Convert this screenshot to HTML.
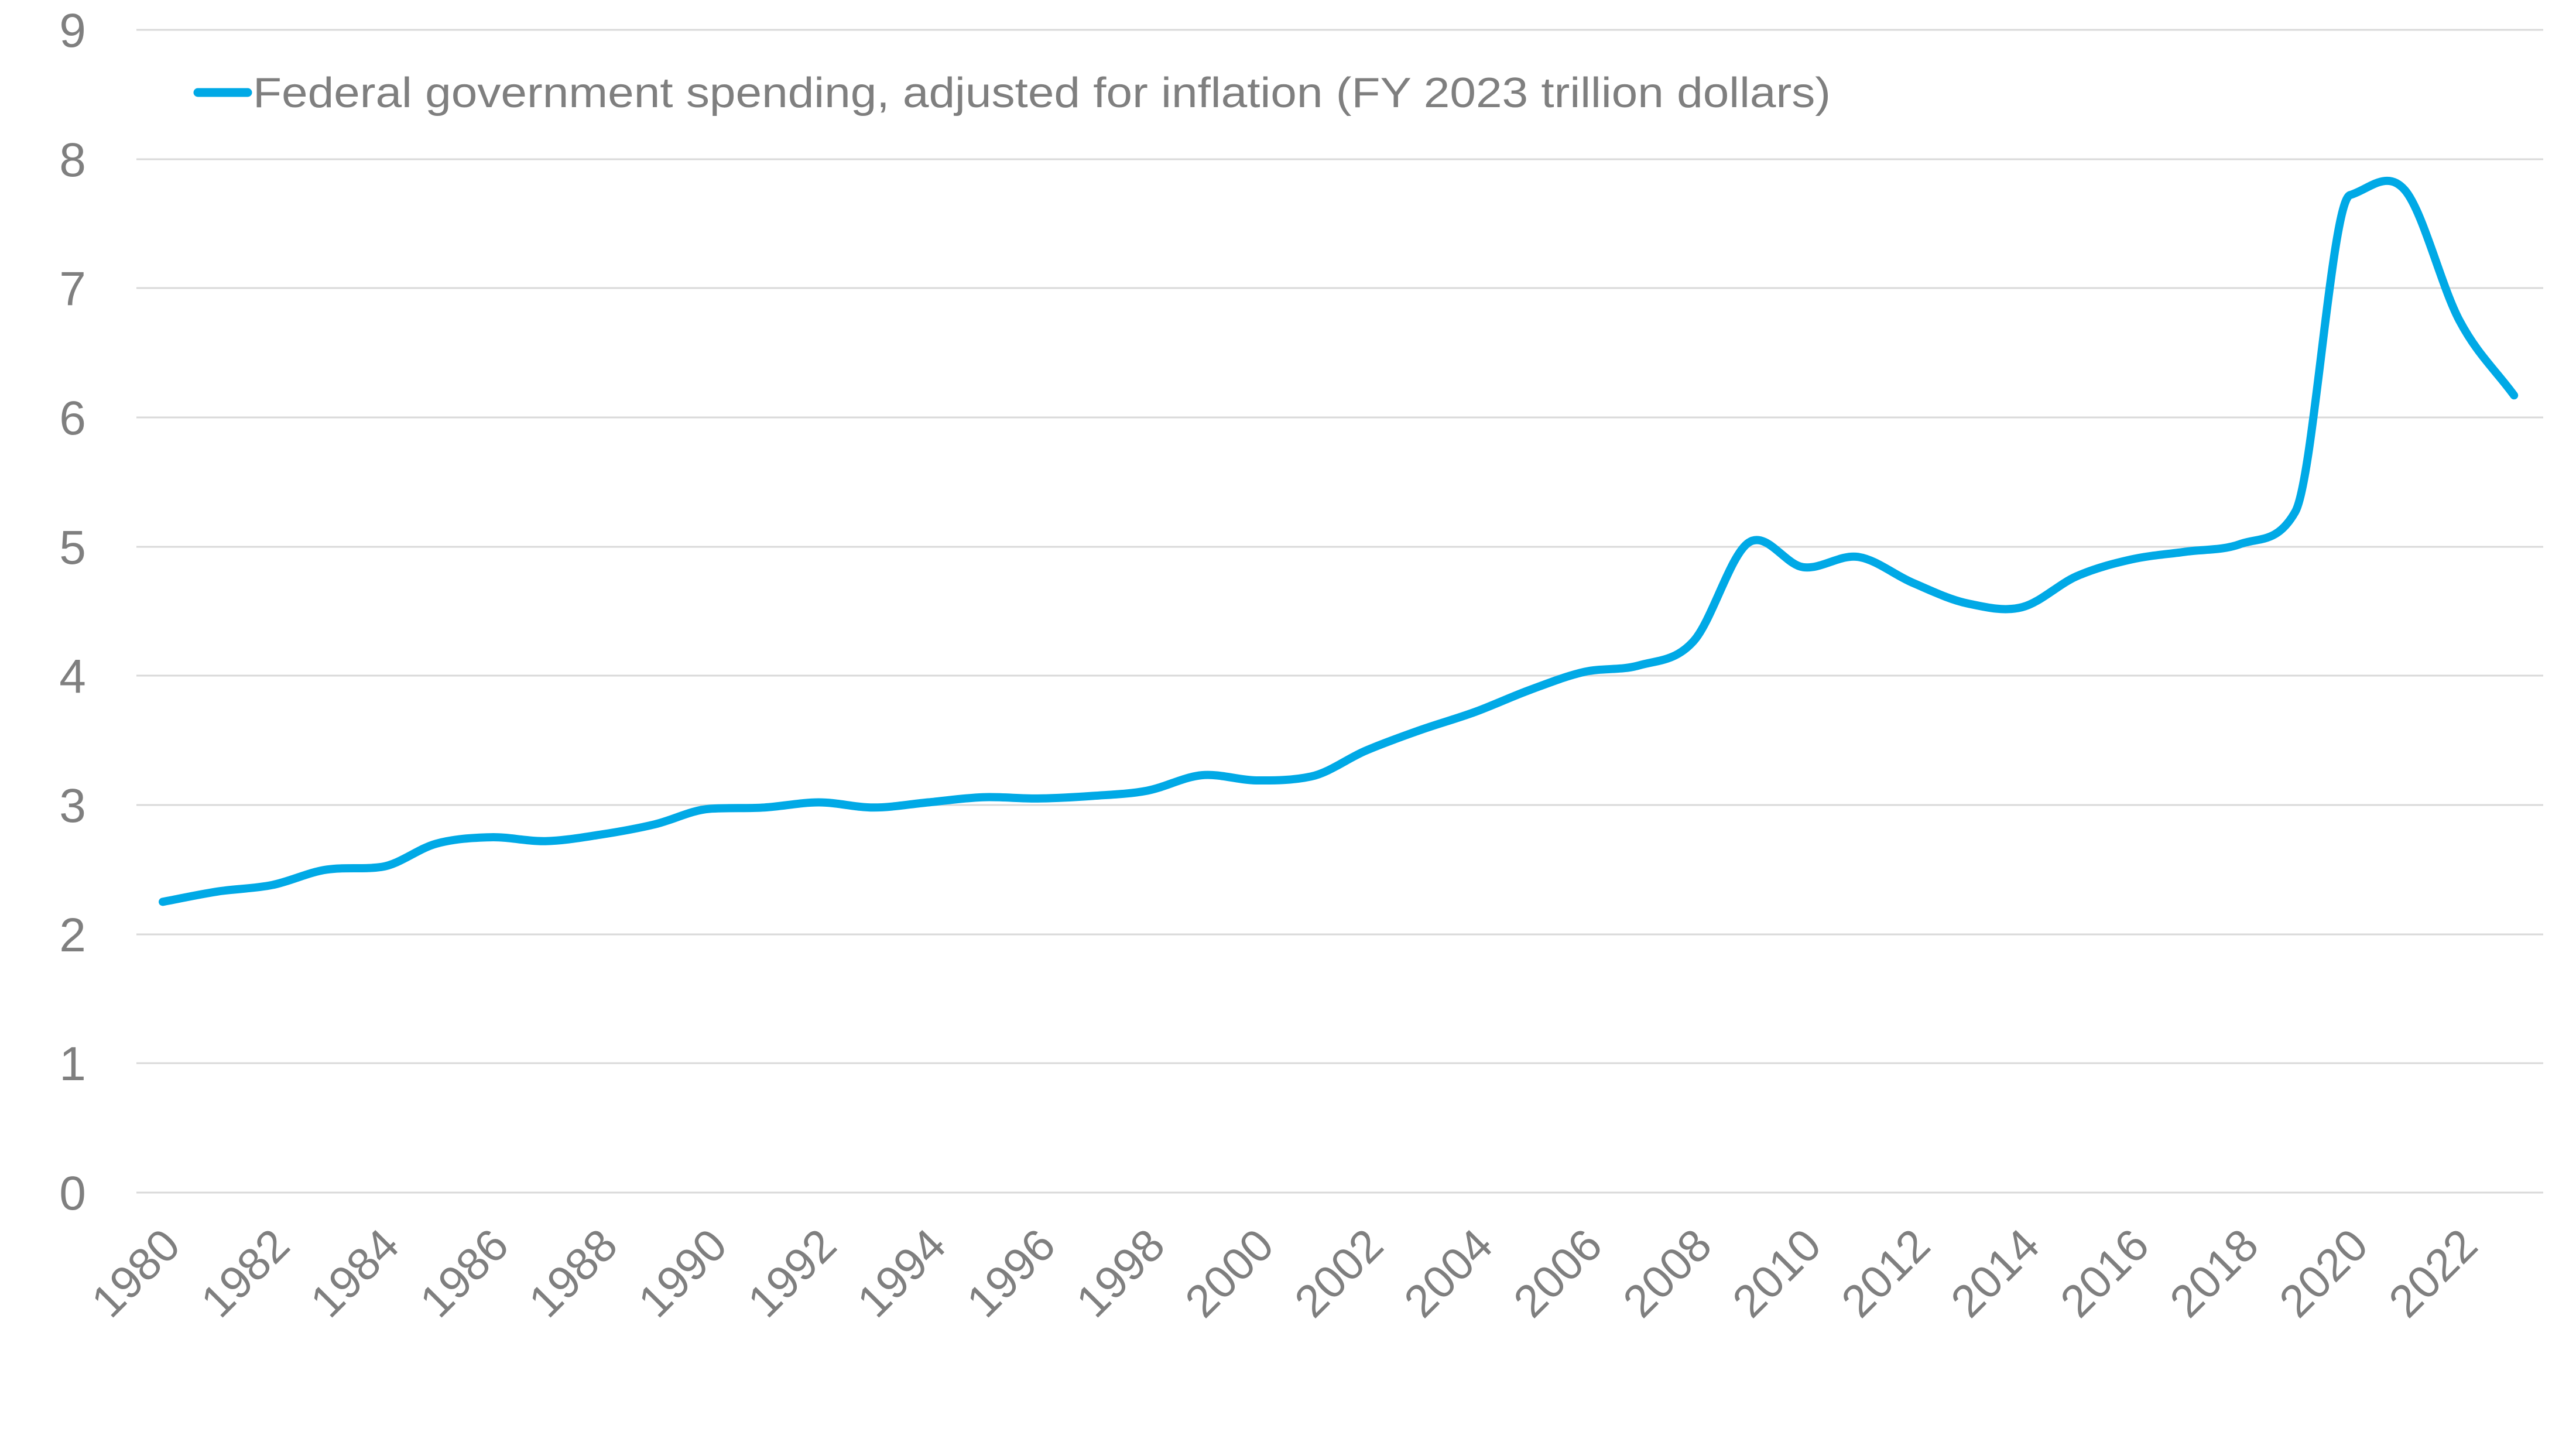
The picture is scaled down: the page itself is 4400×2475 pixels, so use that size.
<!DOCTYPE html>
<html><head><meta charset="utf-8"><style>
html,body{margin:0;padding:0;background:#fff;}
svg{display:block;}
text{font-family:"Liberation Sans",sans-serif;fill:#7f7f7f;}
</style></head><body>
<svg id="s" width="4400" height="2475" viewBox="0 0 4400 2475" xmlns="http://www.w3.org/2000/svg">
<g stroke="#d9d9d9" stroke-width="3">
<line x1="233" x2="4344" y1="51" y2="51"/>
<line x1="233" x2="4344" y1="272" y2="272"/>
<line x1="233" x2="4344" y1="492" y2="492"/>
<line x1="233" x2="4344" y1="713" y2="713"/>
<line x1="233" x2="4344" y1="934" y2="934"/>
<line x1="233" x2="4344" y1="1154" y2="1154"/>
<line x1="233" x2="4344" y1="1375" y2="1375"/>
<line x1="233" x2="4344" y1="1596" y2="1596"/>
<line x1="233" x2="4344" y1="1816" y2="1816"/>
<line x1="233" x2="4344" y1="2037" y2="2037"/>
</g>
<g font-size="82" text-anchor="middle">
<text x="124" y="80">9</text>
<text x="124" y="301">8</text>
<text x="124" y="521">7</text>
<text x="124" y="742">6</text>
<text x="124" y="963">5</text>
<text x="124" y="1183">4</text>
<text x="124" y="1404">3</text>
<text x="124" y="1625">2</text>
<text x="124" y="1845">1</text>
<text x="124" y="2066">0</text>
</g>
<line x1="338" x2="423" y1="158" y2="158" stroke="#00a9e6" stroke-width="15" stroke-linecap="round"/>
<text x="432" y="183" font-size="72" textLength="2695" lengthAdjust="spacingAndGlyphs">Federal government spending, adjusted for inflation (FY 2023 trillion dollars)</text>
<g font-size="78" text-anchor="end">
<text transform="translate(312,2132) rotate(-45)">1980</text>
<text transform="translate(499,2132) rotate(-45)">1982</text>
<text transform="translate(686,2132) rotate(-45)">1984</text>
<text transform="translate(873,2132) rotate(-45)">1986</text>
<text transform="translate(1059,2132) rotate(-45)">1988</text>
<text transform="translate(1246,2132) rotate(-45)">1990</text>
<text transform="translate(1433,2132) rotate(-45)">1992</text>
<text transform="translate(1620,2132) rotate(-45)">1994</text>
<text transform="translate(1807,2132) rotate(-45)">1996</text>
<text transform="translate(1994,2132) rotate(-45)">1998</text>
<text transform="translate(2180,2132) rotate(-45)">2000</text>
<text transform="translate(2367,2132) rotate(-45)">2002</text>
<text transform="translate(2554,2132) rotate(-45)">2004</text>
<text transform="translate(2741,2132) rotate(-45)">2006</text>
<text transform="translate(2928,2132) rotate(-45)">2008</text>
<text transform="translate(3115,2132) rotate(-45)">2010</text>
<text transform="translate(3301,2132) rotate(-45)">2012</text>
<text transform="translate(3488,2132) rotate(-45)">2014</text>
<text transform="translate(3675,2132) rotate(-45)">2016</text>
<text transform="translate(3862,2132) rotate(-45)">2018</text>
<text transform="translate(4049,2132) rotate(-45)">2020</text>
<text transform="translate(4236,2132) rotate(-45)">2022</text>
</g>
<path id="ln" fill="none" stroke="#00a9e6" stroke-width="14" stroke-linecap="round" stroke-linejoin="round" d=""/>
</svg>
<script>
var v=[2.25,2.33,2.38,2.50,2.52,2.70,2.75,2.72,2.77,2.85,2.97,2.98,3.02,2.98,3.02,3.06,3.05,3.07,3.11,3.23,3.19,3.22,3.42,3.58,3.72,3.89,4.03,4.08,4.27,5.03,4.84,4.92,4.72,4.56,4.53,4.77,4.90,4.96,5.02,5.27,7.72,7.76,6.75,6.17];
var p=v.map(function(y,i){return [278+i*93.4,2037-y*220.7];});
var n=p.length,m=[],dl=[];
for(var i=0;i<n-1;i++)dl.push((p[i+1][1]-p[i][1])/(p[i+1][0]-p[i][0]));
m[0]=dl[0];m[n-1]=dl[n-2];
for(var i=1;i<n-1;i++){
 var c=(dl[i-1]+dl[i])/2;
 if(dl[i-1]*dl[i]>0){var lim=3*Math.min(Math.abs(dl[i-1]),Math.abs(dl[i]));if(Math.abs(c)>lim)c=c>0?lim:-lim;}
 m[i]=c;
}
var d="M"+p[0][0].toFixed(1)+","+p[0][1].toFixed(1);
for(var i=0;i<n-1;i++){
 var h=(p[i+1][0]-p[i][0])/3;
 d+=" C"+(p[i][0]+h).toFixed(1)+","+(p[i][1]+m[i]*h).toFixed(1)+" "+(p[i+1][0]-h).toFixed(1)+","+(p[i+1][1]-m[i+1]*h).toFixed(1)+" "+p[i+1][0].toFixed(1)+","+p[i+1][1].toFixed(1);
}
document.getElementById("ln").setAttribute("d",d);
</script>
</body></html>
